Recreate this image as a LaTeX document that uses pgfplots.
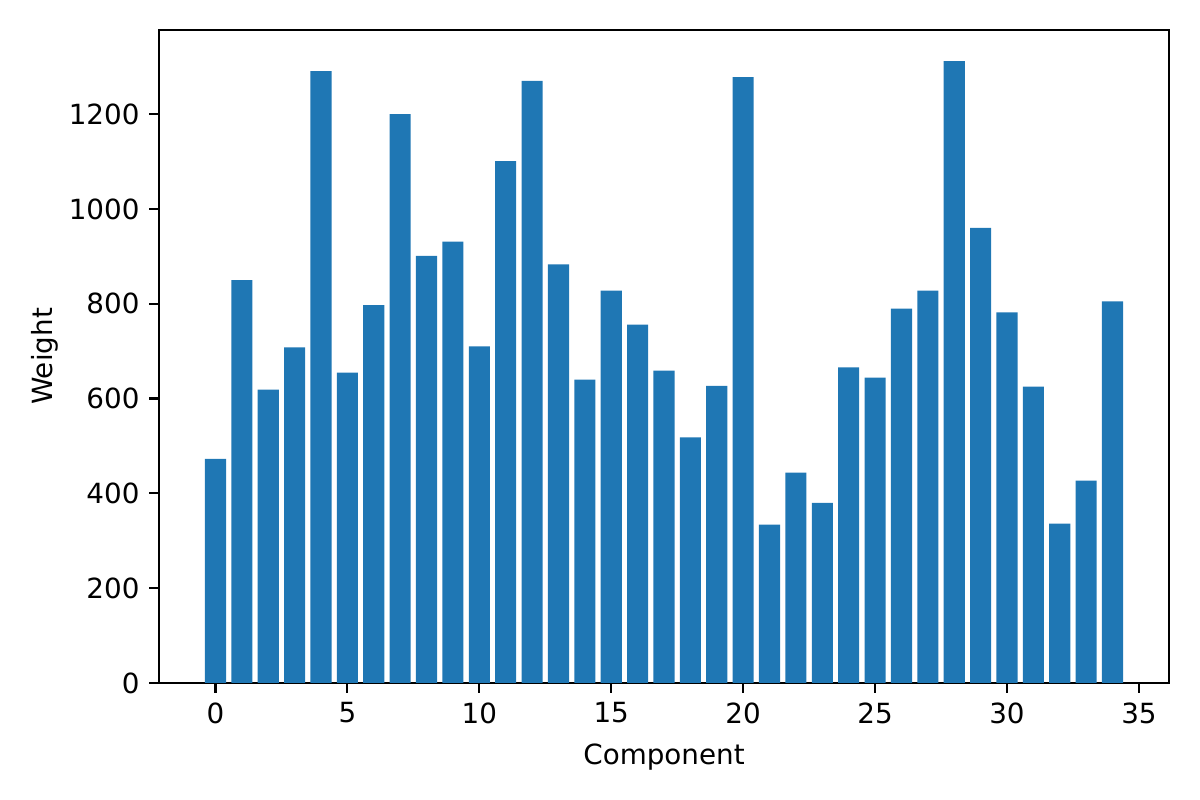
\documentclass[border=0pt]{standalone}
\usepackage{fontspec}
\setmainfont{DejaVu Sans}
\usepackage{pgfplots}
\pgfplotsset{compat=1.18}
\definecolor{mplblue}{HTML}{1F77B4}
\begin{document}
\begin{tikzpicture}
\path[use as bounding box] (0,0) rectangle (432pt,288pt);
\begin{axis}[
  at={(57.24pt,42.12pt)}, anchor=south west,
  scale only axis, width=363.6pt, height=235.08pt,
  xmin=-2.14, xmax=36.14, ymin=0, ymax=1377.6,
  xtick={0,5,...,35}, ytick={0,200,...,1200},
  tick align=outside, xtick pos=bottom, ytick pos=left,
  major tick length=3.5pt,
  tick style={black, line width=0.8pt},
  axis line style={line width=0.8pt},
  xlabel={Component}, ylabel={Weight},
  ylabel shift=-3pt, xlabel shift=0.5pt,
  /pgf/number format/assume math mode=true,
  /pgf/number format/1000 sep={},
  scaled y ticks=false,
  font=\fontsize{10}{12}\selectfont,
  tick label style={font=\fontsize{10}{12}\selectfont},
  label style={font=\fontsize{10}{12}\selectfont},
]
\addplot[ybar, bar width=0.8, fill=mplblue, draw=none] coordinates {
(0,473) (1,850) (2,619) (3,708) (4,1291) (5,655) (6,797) (7,1200) (8,901) (9,931)
(10,710) (11,1101) (12,1270) (13,883) (14,640) (15,828) (16,756) (17,659) (18,518) (19,627)
(20,1278) (21,334) (22,444) (23,380) (24,666) (25,644) (26,790) (27,828) (28,1312) (29,960)
(30,782) (31,625) (32,336) (33,427) (34,805)
};
\end{axis}
\end{tikzpicture}
\end{document}
